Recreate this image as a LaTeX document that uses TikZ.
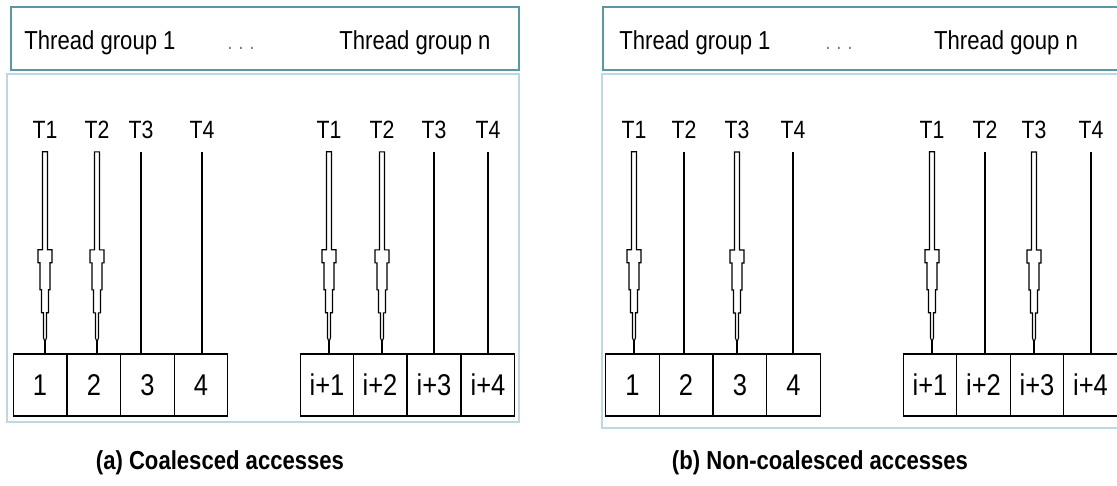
\documentclass[tikz,border=0pt]{standalone}
\usepackage{fontspec}
\setmainfont{Liberation Sans}[FakeStretch=0.85]

\definecolor{framecol}{RGB}{88,152,162}
\definecolor{panelcol}{RGB}{192,214,224}
\definecolor{dotcol}{RGB}{110,110,110}

\begin{document}
\begin{tikzpicture}[x=1pt,y=-1pt,
    cell/.style={draw=black,line width=1.3pt,minimum width=53.5pt,minimum height=62pt,
      inner sep=0pt,outer sep=0pt,font=\fontsize{30}{36}\selectfont},
    tname/.style={font=\fontsize{25}{30}\selectfont,inner xsep=0pt,inner ysep=13pt},
    group/.style={font=\fontsize{26}{31}\selectfont,anchor=base},
    dots/.style={font=\fontsize{20}{24}\selectfont,text=dotcol,anchor=base},
    caption/.style={font=\bfseries\fontsize{26}{31}\selectfont},
    wire/.style={draw=black,line width=1.2pt},
    probe/.pic={
      \draw[line width=1.1pt,fill=white] (2.5,0) -- (2.5,98) -- (7,98) -- (7,111) -- (5,111)
        -- (5,138) -- (3.5,138) -- (3.5,161) -- (1.5,161) -- (1.5,186) -- (0,190)
        -- (-1.5,186) -- (-1.5,161) -- (-3.5,161) -- (-3.5,138) -- (-5,138) -- (-5,111)
        -- (-7,111) -- (-7,98) -- (-2.5,98) -- (-2.5,0) -- cycle;
    }]
    \useasboundingbox (0,0) rectangle (1117,486);
    \clip (0,0) rectangle (1117,486);

    % frames
    \draw[panelcol,line width=1.5pt] (7,74) rectangle (519,422);
    \draw[panelcol,line width=1.5pt] (602,74) rectangle (1140,428);
    \draw[framecol,line width=1.8pt] (11,7) rectangle (519,70);
    \draw[framecol,line width=1.8pt] (603,7) rectangle (1140,70);

    % thread groups
    \node[group] (ga1) at (100,50) {Thread group 1};
    \node[dots] (gad) at (241,50) {. . .};
    \node[group] (gan) at (415,50) {Thread group n};
    \node[group] (gb1) at (695,50) {Thread group 1};
    \node[dots] (gbd) at (839,50) {. . .};
    \node[group] (gbn) at (1006,50) {Thread goup n};

    % memory cells, coalesced
    \node[cell] (a1) at (40,385) {1};
    \node[cell] (a2) at (94,385) {2};
    \node[cell] (a3) at (147.5,385) {3};
    \node[cell] (a4) at (201,385) {4};
    \node[cell] (a5) at (327,385) {i+1};
    \node[cell] (a6) at (380,385) {i+2};
    \node[cell] (a7) at (434,385) {i+3};
    \node[cell] (a8) at (488,385) {i+4};
    % memory cells, non-coalesced
    \node[cell] (b1) at (632.5,385) {1};
    \node[cell] (b2) at (686,385) {2};
    \node[cell] (b3) at (740,385) {3};
    \node[cell] (b4) at (793.5,385) {4};
    \node[cell] (b5) at (930,385) {i+1};
    \node[cell] (b6) at (983.5,385) {i+2};
    \node[cell] (b7) at (1037,385) {i+3};
    \node[cell] (b8) at (1090.5,385) {i+4};

    % threads
    \node[tname] (ta1) at (45,130) {T1};
    \node[tname] (ta2) at (97,130) {T2};
    \node[tname] (ta3) at (141,130) {T3};
    \node[tname] (ta4) at (202,130) {T4};
    \node[tname] (ta5) at (329,130) {T1};
    \node[tname] (ta6) at (382,130) {T2};
    \node[tname] (ta7) at (434,130) {T3};
    \node[tname] (ta8) at (488,130) {T4};
    \node[tname] (tb1) at (634,130) {T1};
    \node[tname] (tb2) at (684,130) {T2};
    \node[tname] (tb3) at (737,130) {T3};
    \node[tname] (tb4) at (793,130) {T4};
    \node[tname] (tb5) at (932,130) {T1};
    \node[tname] (tb6) at (985,130) {T2};
    \node[tname] (tb7) at (1034,130) {T3};
    \node[tname] (tb8) at (1091,130) {T4};

    % accesses
    \path[wire] (ta1.south) edge (ta1.south |- a1.north);
    \path[wire] (ta2.south) edge (ta2.south |- a2.north);
    \path[wire] (ta3.south) edge (ta3.south |- a3.north);
    \path[wire] (ta4.south) edge (ta4.south |- a4.north);
    \path[wire] (ta5.south) edge (ta5.south |- a5.north);
    \path[wire] (ta6.south) edge (ta6.south |- a6.north);
    \path[wire] (ta7.south) edge (ta7.south |- a7.north);
    \path[wire] (ta8.south) edge (ta8.south |- a8.north);
    \path[wire] (tb1.south) edge (tb1.south |- b1.north);
    \path[wire] (tb2.south) edge (tb2.south |- b2.north);
    \path[wire] (tb3.south) edge (tb3.south |- b3.north);
    \path[wire] (tb4.south) edge (tb4.south |- b4.north);
    \path[wire] (tb5.south) edge (tb5.south |- b5.north);
    \path[wire] (tb6.south) edge (tb6.south |- b6.north);
    \path[wire] (tb7.south) edge (tb7.south |- b7.north);
    \path[wire] (tb8.south) edge (tb8.south |- b8.north);
    \pic at (ta1.south) {probe};
    \pic at (ta2.south) {probe};
    \pic at (ta5.south) {probe};
    \pic at (ta6.south) {probe};
    \pic at (tb1.south) {probe};
    \pic at (tb3.south) {probe};
    \pic at (tb5.south) {probe};
    \pic at (tb7.south) {probe};

    \node[caption] (capa) at (220,463) {(a) Coalesced accesses};
    \node[caption] (capb) at (820,463) {(b) Non-coalesced accesses};
\end{tikzpicture}
\end{document}
